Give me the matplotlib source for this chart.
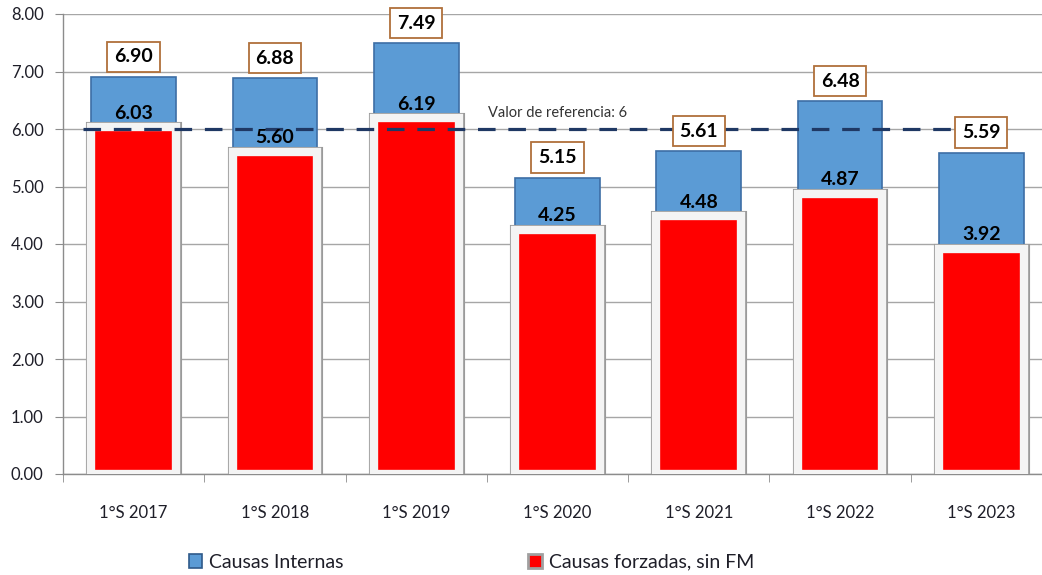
import numpy as np
import matplotlib
matplotlib.use('Agg')
import matplotlib.pyplot as plt
from matplotlib.patches import Patch

plt.rcParams['font.family'] = ['Lato', 'DejaVu Sans']

# data
categories = ['1°S 2017', '1°S 2018', '1°S 2019', '1°S 2020', '1°S 2021', '1°S 2022', '1°S 2023']
causas_internas = [6.90, 6.88, 7.49, 5.15, 5.61, 6.48, 5.59]
causas_forzadas = [6.03, 5.60, 6.19, 4.25, 4.48, 4.87, 3.92]
valor_referencia = 6

blue = '#5b9bd5'
red = '#ff0000'
txt = '#1e1e28'

fig = plt.figure(figsize=(10.42, 5.75), dpi=100)
ax = fig.add_axes([63/1042, 101/575, 989/1042, 460/575])

x = np.arange(len(categories))

# blue bars (total) behind, red bars in front with a light bevel-like frame
ax.bar(x, causas_internas, width=0.6, color=blue, edgecolor='#3d6ea5', linewidth=1.2, zorder=2)
ax.bar(x, causas_forzadas, width=0.6, color='none', edgecolor='#9a9a9a', linewidth=8, zorder=3)
ax.bar(x, causas_forzadas, width=0.6, color=red, edgecolor='#f4f4f4', linewidth=6, zorder=3)

# reference line
ax.axhline(valor_referencia, xmin=0.02, xmax=0.935, color='#1f3864', linewidth=2.3,
           linestyle=(0, (5.5, 4)), zorder=4)
ax.text(2.51, valor_referencia + 0.28, 'Valor de referencia: 6', fontsize=10.5,
        color='#333333', va='center', ha='left', zorder=5)

# labels
for xi, tot, frz in zip(x, causas_internas, causas_forzadas):
    ax.annotate(f'{tot:.2f}', (xi, tot), xytext=(0, 8.5), textcoords='offset points',
                ha='center', va='bottom', fontsize=14, fontweight='bold', color='black',
                bbox=dict(boxstyle='square,pad=0.35', facecolor='white', edgecolor='#b0703a', linewidth=1.3),
                zorder=6)
    ax.annotate(f'{frz:.2f}', (xi, frz), xytext=(0, 4), textcoords='offset points',
                ha='center', va='bottom', fontsize=14, fontweight='bold', color='black', zorder=6)

ax.set_xlim(-0.5, 6.5)
ax.set_ylim(0, 8)
ax.set_yticks(np.arange(0, 9, 1))
ax.set_yticklabels([f'{v:.2f}' for v in range(9)])
ax.set_xticks(x)
ax.set_xticklabels(categories)
ax.set_xticks(np.arange(-0.5, 7, 1), minor=True)

ax.tick_params(axis='x', which='major', length=0, pad=22, labelsize=12, labelcolor=txt)
ax.tick_params(axis='x', which='minor', length=6, color='#8c8c8c', direction='out')
ax.tick_params(axis='y', length=6, color='#8c8c8c', pad=8, labelsize=12, labelcolor=txt)

ax.grid(axis='y', color='#a6a6a6', linewidth=1, zorder=0)
ax.set_axisbelow(True)
for s in ['top', 'right']:
    ax.spines[s].set_visible(False)
for s in ['left', 'bottom']:
    ax.spines[s].set_color('#8c8c8c')
    ax.spines[s].set_linewidth(1)

handles = [Patch(facecolor=blue, edgecolor='#2f5a8a', linewidth=1.2),
           Patch(facecolor=red, edgecolor='#a0a0a0', linewidth=2)]
fig.legend(handles, ['Causas Internas', 'Causas forzadas, sin FM'], loc='center left',
           bbox_to_anchor=(179/1042, 1 - 562/575), ncol=2, frameon=False, fontsize=14,
           handlelength=0.7, handleheight=0.7, handletextpad=0.35, columnspacing=9.5,
           borderpad=0, labelcolor=txt)

fig.savefig('out.png', dpi=100)
